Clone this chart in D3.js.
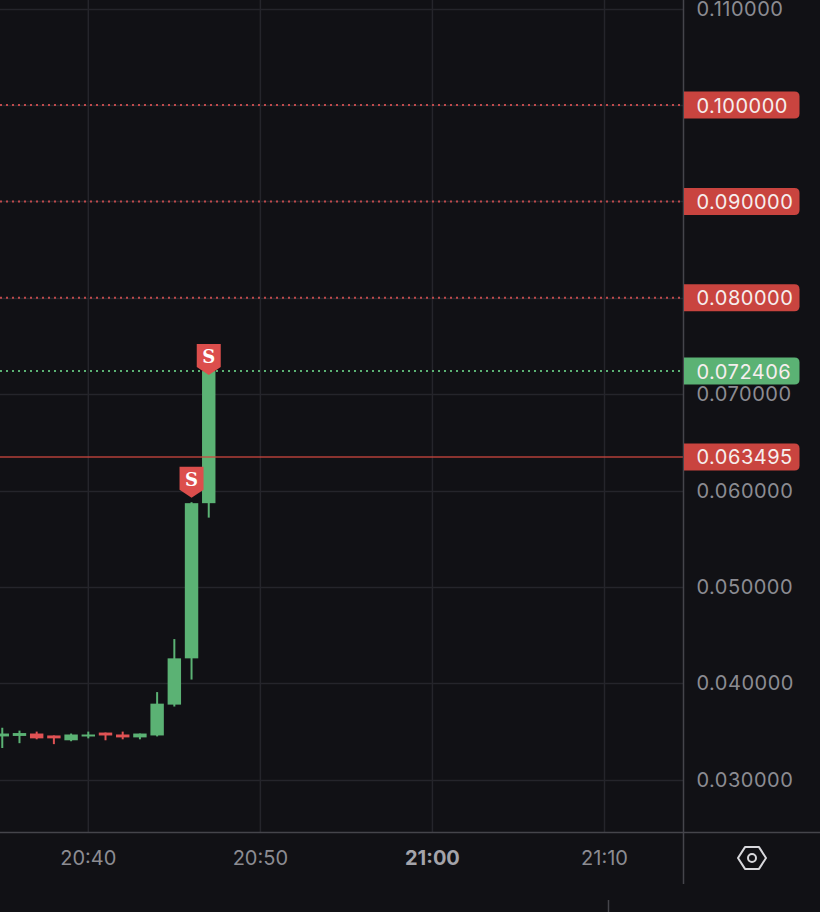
<!DOCTYPE html>
<html><head><meta charset="utf-8">
<script src="https://cdn.jsdelivr.net/npm/d3@7"></script>
<style>
html,body{margin:0;padding:0;background:#111115;}
svg{display:block;}
</style></head>
<body>
<svg id="c" width="820" height="912"></svg>
<script>
// ---- data ----
const times = ["20:35","20:36","20:37","20:38","20:39","20:40","20:41","20:42","20:43","20:44","20:45","20:46","20:47"];
const opens  = [0.03450,0.03455,0.03480,0.03460,0.03410,0.03450,0.03490,0.03470,0.03440,0.03460,0.03780,0.04260,0.05870];
const highs  = [0.03540,0.03510,0.03500,0.03460,0.03480,0.03500,0.03490,0.03500,0.03480,0.03910,0.04460,0.05880,0.07241];
const lows   = [0.03330,0.03380,0.03420,0.03370,0.03400,0.03430,0.03410,0.03420,0.03420,0.03450,0.03760,0.04040,0.05720];
const closes = [0.03480,0.03485,0.03430,0.03430,0.03470,0.03470,0.03460,0.03440,0.03480,0.03790,0.04260,0.05870,0.072406];
const yTicks = [0.03,0.04,0.05,0.06,0.07,0.08,0.09,0.10,0.11];
const xTickLabels = ["20:40","20:50","21:00","21:10"];
const boldXTicks = ["21:00"];
const dottedRedLevels = [0.10,0.09,0.08];
const lastPrice = 0.072406;
const solidLevel = 0.063495;
const markerTimes = ["20:46","20:47"];
const markerPrices = [0.05925,0.07200];
const markerText = "S";

// ---- setup ----
const W = 820, H = 912, plotR = 683, plotB = 832;
const svg = d3.select("#c");
const font = "Inter, 'Noto Sans', sans-serif";
const parse = s => { const [h,m] = s.split(":").map(Number); return new Date(2024,0,1,h,m); };

const x = d3.scaleTime().domain([parse("20:40"), parse("21:10")]).range([88.3, 604.5]);
const y = d3.scaleLinear().domain([0.03, 0.11]).range([779.8, 8.7]);
const step = x(parse("20:41")) - x(parse("20:40"));
const bodyW = step * 0.78;

svg.append("rect").attr("width",W).attr("height",H).attr("fill","#111115");
const defs = svg.append("defs");
defs.append("clipPath").attr("id","plot").append("rect").attr("x",0).attr("y",0).attr("width",plotR).attr("height",plotB);
const plot = svg.append("g").attr("clip-path","url(#plot)");

// grid
plot.selectAll("line.hg").data(yTicks).join("line")
  .attr("x1",0).attr("x2",plotR).attr("y1",d=>Math.round(y(d))+0.5).attr("y2",d=>Math.round(y(d))+0.5)
  .attr("stroke","#25252b").attr("stroke-width",1.5);
plot.selectAll("line.vg").data(xTickLabels).join("line")
  .attr("y1",0).attr("y2",plotB).attr("x1",d=>x(parse(d))).attr("x2",d=>x(parse(d)))
  .attr("stroke","#25252b").attr("stroke-width",1.5);

// candles
const candles = times.map((t,i)=>({t:parse(t),o:opens[i],h:highs[i],l:lows[i],c:closes[i]}));
const green = "#5bb274", red = "#e05254";
const cg = plot.append("g");
cg.selectAll("line.w").data(candles).join("line")
  .attr("x1",d=>x(d.t)).attr("x2",d=>x(d.t)).attr("y1",d=>y(d.h)).attr("y2",d=>y(d.l))
  .attr("stroke",d=>d.c>=d.o?green:red).attr("stroke-width",2);
cg.selectAll("rect.b").data(candles).join("rect")
  .attr("x",d=>x(d.t)-bodyW/2).attr("width",bodyW)
  .attr("y",d=>y(Math.max(d.o,d.c))).attr("height",d=>Math.max(2,Math.abs(y(d.o)-y(d.c))))
  .attr("fill",d=>d.c>=d.o?green:red);

// price lines
plot.selectAll("line.dr").data(dottedRedLevels).join("line")
  .attr("x1",0).attr("x2",plotR).attr("y1",d=>y(d)).attr("y2",d=>y(d))
  .attr("stroke","#c04a4c").attr("stroke-width",2).attr("stroke-dasharray","2,4");
plot.append("line").attr("x1",0).attr("x2",plotR).attr("y1",y(lastPrice)).attr("y2",y(lastPrice))
  .attr("stroke",green).attr("stroke-width",2).attr("stroke-dasharray","2,4");
plot.append("line").attr("x1",0).attr("x2",plotR).attr("y1",y(solidLevel)).attr("y2",y(solidLevel))
  .attr("stroke","#d0463f").attr("stroke-opacity",0.85).attr("stroke-width",1.5);

// markers
markerTimes.forEach((t,i)=>{
  const cx = x(parse(t)), tip = y(markerPrices[i]);
  const w = 24, hh = 23, pt = 8;
  const g = plot.append("g");
  g.append("path").attr("d",`M${cx-w/2},${tip-pt-hh} L${cx+w/2},${tip-pt-hh} L${cx+w/2},${tip-pt} L${cx},${tip} L${cx-w/2},${tip-pt} Z`)
    .attr("fill","#dc4e4c");
  g.append("text").attr("x",cx).attr("y",tip-pt-hh/2+1).attr("text-anchor","middle").attr("dominant-baseline","central")
    .attr("font-family","'DejaVu Serif','Liberation Serif',serif").attr("font-weight","bold").attr("font-size",18)
    .attr("fill","#ffffff").text(markerText);
});

// axes lines
svg.append("line").attr("x1",683.5).attr("x2",683.5).attr("y1",0).attr("y2",884).attr("stroke","#45454b").attr("stroke-width",1.5);
svg.append("line").attr("x1",0).attr("x2",W).attr("y1",832.5).attr("y2",832.5).attr("stroke","#45454b").attr("stroke-width",1.5);
svg.append("line").attr("x1",608.5).attr("x2",608.5).attr("y1",900).attr("y2",912).attr("stroke","#45454b").attr("stroke-width",1.5);

// y axis labels
svg.selectAll("text.yl").data(yTicks).join("text")
  .attr("x",696.5).attr("y",d=>y(d)).attr("dominant-baseline","central")
  .attr("font-family",font).attr("font-size",20).attr("letter-spacing",0.5).attr("fill","#8c8c92")
  .text(d=>d.toFixed(6));

// price labels
const labels = dottedRedLevels.map(v=>({v,c:"#c9443f"})).concat([{v:lastPrice,c:"#5bb274"},{v:solidLevel,c:"#c9443f"}]);
const lg = svg.append("g");
labels.forEach(d=>{
  const cy = y(d.v), h = 27, x0 = 684, x1 = 799.5, r = 5;
  lg.append("path").attr("d",`M${x0},${cy-h/2} L${x1-r},${cy-h/2} Q${x1},${cy-h/2} ${x1},${cy-h/2+r} L${x1},${cy+h/2-r} Q${x1},${cy+h/2} ${x1-r},${cy+h/2} L${x0},${cy+h/2} Z`)
    .attr("fill",d.c);
  lg.append("text").attr("x",696.5).attr("y",cy+0.5).attr("dominant-baseline","central")
    .attr("font-family",font).attr("font-size",20).attr("letter-spacing",0.5).attr("fill","#f6eeee").text(d.v.toFixed(6));
});

// x axis labels
svg.selectAll("text.xl").data(xTickLabels).join("text")
  .attr("x",d=>x(parse(d))).attr("y",858).attr("text-anchor","middle").attr("dominant-baseline","central")
  .attr("font-family",font).attr("font-size",20)
  .attr("font-weight",d=>boldXTicks.includes(d)?"bold":"normal")
  .attr("fill",d=>boldXTicks.includes(d)?"#a4a4aa":"#8c8c92")
  .text(d=>d);

// settings icon
const ic = svg.append("g").attr("transform","translate(752,858)");
const R = 14;
ic.append("polygon").attr("points", d3.range(6).map(k=>{const a=Math.PI/3*k; return [R*Math.cos(a), R*Math.sin(a)*0.9].join(",");}).join(" "))
  .attr("fill","none").attr("stroke","#d8d8dc").attr("stroke-width",2).attr("stroke-linejoin","round");
ic.append("circle").attr("r",4).attr("fill","none").attr("stroke","#d8d8dc").attr("stroke-width",2);
</script>
</body></html>
